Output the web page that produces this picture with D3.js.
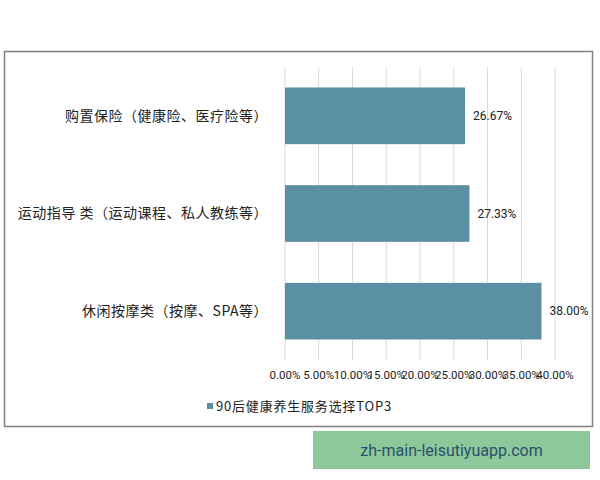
<!DOCTYPE html>
<html>
<head>
<meta charset="utf-8">
<script src="https://cdn.jsdelivr.net/npm/d3@7"></script>
<style>
  body { margin: 0; background: #fff; }
</style>
</head>
<body>
<script>
var categories = ['购置保险（健康险、医疗险等）', '运动指导 类（运动课程、私人教练等）', '休闲按摩类（按摩、SPA等）'];
var values = [26.67, 27.33, 38.00];
var ticks = [0, 5, 10, 15, 20, 25, 30, 35, 40];
var seriesName = '90后健康养生服务选择TOP3';
var watermark = 'zh-main-leisutiyuapp.com';

var w = 600;
var h = 480;
var cjk = '"SimSun", "Noto Sans CJK SC", sans-serif';

var svg = d3.select("body")
    .append("svg")
    .attr("width", w)
    .attr("height", h);

// outer frame
svg.append("rect")
   .attr("x", 4.5)
   .attr("y", 51.5)
   .attr("width", 588)
   .attr("height", 375)
   .attr("fill", "#fff")
   .attr("stroke", "#808080")
   .attr("stroke-width", 1.5);

var x = d3.scaleLinear().domain([0, 40]).range([285, 555]);
var y = d3.scaleBand().domain(categories).range([67, 360]).paddingInner(0.42).paddingOuter(0.21);

// gridlines
svg.selectAll("line.grid")
   .data(ticks)
   .enter()
   .append("line")
   .attr("class", "grid")
   .attr("x1", function(d) { return x(d); })
   .attr("x2", function(d) { return x(d); })
   .attr("y1", 67)
   .attr("y2", 360)
   .attr("stroke", "#d9d9d9")
   .attr("stroke-width", 1);

svg.selectAll("rect.bar")
   .data(values)
   .enter()
   .append("rect")
   .attr("class", "bar")
   .attr("x", x(0))
   .attr("y", function(d, i) { return y(categories[i]); })
   .attr("width", function(d) { return x(d) - x(0); })
   .attr("height", y.bandwidth())
   .attr("fill", "#5b8fa3");

svg.selectAll("text.val")
   .data(values)
   .enter()
   .append("text")
   .attr("class", "val")
   .text(function(d) { return d.toFixed(2) + "%"; })
   .attr("x", function(d) { return x(d) + 8; })
   .attr("y", function(d, i) { return y(categories[i]) + y.bandwidth() / 2; })
   .attr("dy", "0.35em")
   .attr("font-family", "Roboto, sans-serif")
   .attr("font-size", "12px")
   .attr("fill", "#222");

svg.selectAll("text.cat")
   .data(categories)
   .enter()
   .append("text")
   .attr("class", "cat")
   .text(function(d) { return d; })
   .attr("text-anchor", "end")
   .attr("x", 268)
   .attr("y", function(d) { return y(d) + y.bandwidth() / 2; })
   .attr("dy", "0.35em")
   .attr("font-family", cjk)
   .attr("font-size", "14px")
   .attr("letter-spacing", "0.5px")
   .attr("fill", "#222");

svg.selectAll("text.tick")
   .data(ticks)
   .enter()
   .append("text")
   .attr("class", "tick")
   .text(function(d) { return d.toFixed(2) + "%"; })
   .attr("text-anchor", "middle")
   .attr("x", function(d) { return x(d); })
   .attr("y", 375)
   .attr("dy", "0.35em")
   .attr("font-family", "Roboto, sans-serif")
   .attr("font-size", "11.5px")
   .attr("fill", "#222");

// legend
svg.append("rect")
   .attr("x", 207)
   .attr("y", 403)
   .attr("width", 6)
   .attr("height", 6)
   .attr("fill", "#5b8fa3");

svg.append("text")
   .text(seriesName)
   .attr("x", 216)
   .attr("y", 406)
   .attr("dy", "0.35em")
   .attr("font-family", cjk)
   .attr("font-size", "13px")
   .attr("letter-spacing", "0.8px")
   .attr("fill", "#222");

// watermark box
svg.append("rect")
   .attr("x", 313)
   .attr("y", 431)
   .attr("width", 277)
   .attr("height", 38)
   .attr("fill", "#8dc89a");

svg.append("text")
   .text(watermark)
   .attr("text-anchor", "middle")
   .attr("x", 451.5)
   .attr("y", 450)
   .attr("dy", "0.35em")
   .attr("font-family", "Roboto, sans-serif")
   .attr("font-size", "16px")
   .attr("fill", "#2c4f6b");
</script>
</body>
</html>
